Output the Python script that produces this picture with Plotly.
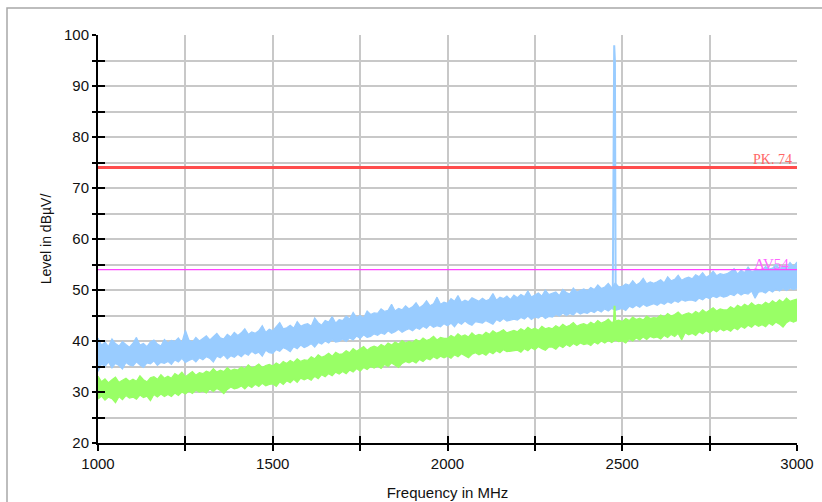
import plotly.graph_objects as go

# ---------------- data ----------------
freq_start = 1000
freq_step = 10
n_points = 201
freq = [freq_start + i * freq_step for i in range(n_points)]

# Peak trace (blue): upper / lower envelope of the noisy band, dBuV
peak_upper = [
    40.6, 39.2, 39.8, 38.9, 40.4, 39.5, 39.0, 39.9, 39.3, 38.8,
    39.6, 40.7, 39.2, 39.5, 38.9, 39.8, 40.2, 39.4, 39.0, 40.3,
    39.6, 40.1, 39.9, 40.6, 39.7, 42.1, 40.2, 39.8, 40.7, 40.0,
    40.5, 41.0, 40.2, 40.9, 41.5, 40.6, 40.4, 41.3, 40.8, 41.7,
    41.1, 41.6, 42.4, 41.3, 41.8, 41.5, 42.0, 43.0, 41.7, 42.3,
    42.0, 42.8, 43.6, 42.4, 42.6, 43.1, 42.5, 43.8, 42.9, 43.2,
    43.4, 42.9, 44.5, 43.6, 43.1, 44.0, 43.7, 44.8, 43.5, 44.2,
    44.0, 44.9, 44.3, 45.6, 44.6, 45.0, 44.5, 45.9, 45.2, 45.5,
    45.4, 46.3, 45.8, 46.0, 47.2, 45.9, 46.4, 46.1, 46.9, 46.3,
    46.7, 47.5, 46.5, 47.0, 47.9, 46.9, 47.3, 48.6, 47.2, 47.6,
    47.4, 48.3, 47.8, 48.9, 47.6, 48.0, 47.7, 48.5, 48.1, 47.8,
    48.4, 47.9, 48.2, 49.3, 48.0, 48.6, 48.3, 48.8, 48.1, 49.0,
    48.5, 49.1, 48.7, 49.8, 48.6, 49.0, 49.4, 48.8, 50.0, 49.1,
    49.3, 49.6, 48.9, 50.1, 49.5, 49.2, 50.4, 49.6, 49.9, 50.2,
    49.8, 50.5, 50.1, 51.0, 50.3, 50.6, 51.3, 50.4, 51.4, 50.6,
    50.7, 51.2, 50.9, 51.8, 51.0, 51.4, 52.3, 51.2, 51.6, 51.3,
    51.6, 52.0, 51.4, 52.6, 51.8, 52.1, 52.9, 51.9, 52.3, 52.5,
    52.2, 53.0, 52.6, 53.4, 52.5, 52.9, 53.7, 52.8, 53.2, 53.0,
    53.2, 53.6, 54.2, 53.1, 53.9, 53.4, 54.5, 53.6, 53.8, 54.0,
    53.9, 54.6, 54.1, 54.3, 55.0, 54.2, 54.7, 54.4, 55.4, 54.6,
    55.5,
]
peak_lower = [
    34.0, 35.5, 35.0, 35.9, 34.7, 35.6, 35.2, 34.5, 35.8, 35.3,
    35.1, 35.9, 35.3, 34.8, 35.7, 35.5, 36.1, 35.2, 35.8, 35.6,
    36.0, 35.4, 36.3, 35.9, 36.6, 35.8, 36.2, 36.5, 35.9, 36.7,
    36.3, 36.9, 36.6, 35.9, 37.0, 36.7, 37.3, 36.5, 37.1, 36.8,
    37.4, 36.9, 37.6, 37.2, 38.0, 37.5, 37.8, 37.0, 38.2, 37.7,
    37.6, 38.3, 38.0, 38.7, 38.4, 37.9, 38.9, 38.5, 39.2, 38.7,
    39.0, 39.5, 38.8, 39.7, 39.4, 40.0, 39.6, 40.3, 39.8, 39.9,
    40.4, 39.9, 40.6, 40.2, 41.0, 40.5, 41.2, 40.7, 40.9, 41.4,
    41.1, 41.6, 41.3, 42.0, 41.5, 41.8, 42.3, 41.7, 42.1, 42.4,
    42.0, 42.6, 42.3, 42.9, 42.5, 43.2, 42.7, 43.0, 42.8, 43.4,
    43.0, 43.5, 42.8, 43.7, 43.3, 43.9, 43.4, 43.1, 43.8, 43.6,
    43.5, 44.0, 43.6, 43.3, 44.2, 43.8, 44.4, 43.9, 44.1, 44.3,
    44.1, 44.6, 44.3, 44.9, 44.2, 44.7, 44.5, 45.0, 44.4, 44.8,
    44.7, 45.2, 44.9, 45.5, 45.0, 45.4, 45.1, 45.8, 45.3, 45.6,
    45.4, 45.9, 45.6, 46.1, 45.7, 46.3, 45.9, 46.4, 46.0, 46.2,
    46.4, 46.0, 46.8, 46.5, 47.0, 46.6, 47.2, 46.8, 47.1, 47.3,
    47.0, 47.5, 47.2, 47.7, 47.4, 47.9, 47.6, 48.1, 47.8, 48.0,
    48.0, 47.8, 48.4, 48.1, 48.6, 48.3, 48.8, 48.5, 48.9, 48.6,
    48.8, 49.2, 48.9, 49.5, 49.0, 49.4, 49.2, 49.8, 48.4, 49.6,
    49.7, 49.4, 50.0, 49.6, 50.2, 49.8, 50.3, 49.9, 50.4, 50.1,
    50.3,
]

# Average trace (green): upper / lower envelope, dBuV
avg_upper = [
    33.1, 32.0, 32.6, 31.8, 32.4, 32.9, 31.9, 32.3, 32.7, 32.1,
    32.5, 32.1, 33.2, 32.4, 32.0, 32.8, 33.0, 32.5, 33.4, 32.7,
    33.1, 32.7, 33.6, 33.2, 33.9, 33.0, 33.5, 34.0, 33.3, 33.8,
    33.6, 34.1, 33.8, 34.6, 33.9, 34.3, 34.0, 34.8, 34.2, 34.5,
    34.3, 34.9, 34.5, 35.3, 34.7, 35.0, 35.5, 34.8, 35.2, 35.4,
    35.1, 35.7, 35.3, 36.0, 35.6, 36.2, 35.8, 36.5, 36.0, 36.3,
    36.2, 36.9, 36.5, 37.3, 36.8, 37.1, 37.6, 37.0, 37.8, 37.4,
    37.5, 38.1, 37.7, 38.5, 38.0, 38.4, 38.9, 38.2, 38.7, 39.0,
    38.7, 39.3, 38.9, 39.6, 39.2, 39.8, 39.4, 40.1, 39.6, 39.9,
    39.7, 40.3, 39.9, 40.6, 40.1, 40.4, 40.9, 40.2, 40.7, 40.5,
    40.5, 41.1, 40.7, 41.4, 40.9, 41.2, 40.8, 41.6, 41.0, 41.3,
    41.1, 41.7, 41.3, 42.0, 41.5, 41.8, 42.2, 41.6, 41.9, 42.1,
    41.8, 42.4, 42.0, 42.7, 42.2, 42.5, 42.1, 42.9, 42.4, 42.6,
    42.4, 43.0, 42.6, 43.3, 42.8, 43.1, 43.6, 42.9, 43.2, 43.4,
    43.1, 43.7, 43.3, 44.0, 43.5, 43.8, 44.3, 43.6, 43.9, 44.1,
    43.8, 44.4, 44.0, 44.7, 44.2, 44.5, 44.1, 44.9, 44.4, 44.6,
    44.5, 45.1, 44.7, 45.4, 44.9, 45.2, 45.7, 45.0, 45.3, 45.5,
    45.2, 45.8, 45.4, 46.1, 45.6, 46.0, 46.5, 45.9, 46.3, 46.1,
    46.1, 46.7, 46.3, 47.0, 46.6, 47.2, 46.8, 47.5, 46.9, 47.2,
    47.0, 47.6, 47.2, 47.9, 47.4, 48.1, 47.6, 48.4, 47.8, 48.0,
    48.2,
]
avg_lower = [
    28.6, 29.2, 28.4, 29.0, 28.7, 27.9, 29.1, 28.5, 29.3, 28.8,
    29.0, 28.6, 29.4, 28.9, 29.2, 28.3, 29.5, 29.0, 29.6, 29.1,
    29.5, 29.1, 29.8, 29.3, 30.0, 29.6, 30.2, 29.7, 30.4, 30.0,
    30.2, 29.8, 30.6, 30.1, 30.7, 30.3, 29.7, 30.5, 31.0, 30.6,
    30.8, 31.2, 30.6, 31.3, 30.9, 31.5, 31.1, 31.7, 31.2, 31.5,
    31.6, 31.1, 32.0, 31.5, 32.2, 31.8, 32.5, 31.9, 32.7, 32.4,
    32.7, 32.3, 33.1, 32.6, 33.4, 33.0, 33.6, 33.2, 33.9, 33.5,
    34.0, 33.6, 34.3, 33.9, 34.6, 34.1, 34.8, 34.4, 35.0, 34.7,
    35.1, 34.6, 35.4, 35.0, 35.7, 35.3, 34.8, 35.6, 36.0, 35.7,
    36.1, 35.7, 36.4, 36.0, 36.6, 36.3, 36.9, 36.5, 37.0, 36.7,
    37.0, 36.6, 37.3, 36.9, 37.5, 37.1, 36.7, 37.4, 37.7, 37.3,
    37.6, 37.2, 37.9, 37.5, 38.1, 37.7, 38.3, 37.9, 38.0, 38.2,
    38.2, 37.8, 38.5, 38.1, 38.7, 38.3, 38.9, 38.5, 38.2, 38.8,
    38.8, 38.4, 39.1, 38.7, 39.3, 38.9, 39.5, 39.1, 39.6, 39.3,
    39.5, 39.1, 39.8, 39.4, 40.0, 39.6, 40.1, 39.7, 40.2, 39.9,
    40.0, 39.6, 40.4, 40.0, 40.6, 40.2, 40.8, 40.3, 40.9, 40.6,
    40.8, 40.4, 41.1, 40.7, 41.3, 40.9, 41.5, 40.2, 41.6, 41.2,
    41.5, 41.1, 41.8, 41.4, 42.0, 41.6, 42.2, 41.8, 42.4, 42.0,
    42.3, 41.9, 42.6, 42.2, 42.9, 42.5, 43.1, 42.7, 43.3, 42.9,
    43.2, 42.8, 43.5, 43.1, 43.7, 43.3, 42.7, 43.6, 44.0, 43.7,
    44.0,
]

# Carrier spike near 2477 MHz
spike_freq = [2473, 2475, 2477, 2479, 2481]
spike_peak = [50.0, 96.0, 98.0, 95.0, 51.0]
spike_avg_freq = [2476, 2478, 2480]
spike_avg = [43.5, 46.9, 44.0]

# Limit lines
limit_freq = [1000, 3000]
limit_pk = 74
limit_av = 54
limit_pk_label = "PK. 74"
limit_av_label = "AV54"

x_major_ticks = [1000, 1500, 2000, 2500, 3000]
y_major_ticks = [20, 30, 40, 50, 60, 70, 80, 90, 100]

BLUE = "#99ccff"
GREEN = "#99ff66"
RED = "#ff4d4d"
MAGENTA = "#ff44ff"

fig = go.Figure()

# Blue band
fig.add_trace(go.Scatter(x=freq, y=peak_lower, mode="lines",
                         line=dict(color=BLUE, width=1.2), hoverinfo="skip"))
fig.add_trace(go.Scatter(x=freq, y=peak_upper, mode="lines",
                         line=dict(color=BLUE, width=1.2), fill="tonexty",
                         fillcolor=BLUE, hoverinfo="skip"))
# Green band
fig.add_trace(go.Scatter(x=freq, y=avg_lower, mode="lines",
                         line=dict(color=GREEN, width=1.2), hoverinfo="skip"))
fig.add_trace(go.Scatter(x=freq, y=avg_upper, mode="lines",
                         line=dict(color=GREEN, width=1.2), fill="tonexty",
                         fillcolor=GREEN, hoverinfo="skip"))
# Spikes
fig.add_trace(go.Scatter(x=spike_freq, y=spike_peak, mode="lines",
                         line=dict(color=BLUE, width=2)))
fig.add_trace(go.Scatter(x=spike_avg_freq, y=spike_avg, mode="lines",
                         line=dict(color=GREEN, width=2)))

# Limits
fig.add_trace(go.Scatter(x=limit_freq, y=[limit_pk] * len(limit_freq), mode="lines",
                         line=dict(color=RED, width=3)))
fig.add_trace(go.Scatter(x=limit_freq, y=[limit_av] * len(limit_freq), mode="lines",
                         line=dict(color=MAGENTA, width=1.3)))

fig.add_annotation(x=limit_freq[-1], y=limit_pk, text=limit_pk_label, showarrow=False,
                   xanchor="right", yanchor="bottom", xshift=-3, yshift=-1,
                   font=dict(family="Liberation Serif, DejaVu Serif, serif", size=14,
                             color="#ff6666"))
fig.add_annotation(x=limit_freq[-1], y=limit_av, text=limit_av_label, showarrow=False,
                   xanchor="right", yanchor="bottom", xshift=-6, yshift=-4,
                   font=dict(family="Liberation Serif, DejaVu Serif, serif", size=15,
                             color="#ff66ff"))

GRID = "#c8c8c8"
FONT = "Liberation Sans, Arial, sans-serif"

fig.update_layout(
    width=822, height=502,
    margin=dict(l=98, r=25, t=35, b=59),
    paper_bgcolor="white", plot_bgcolor="white",
    showlegend=False,
    font=dict(family=FONT, size=15, color="#111111"),
    xaxis=dict(range=[1000, 3000], tickvals=x_major_ticks, automargin=False,
               showgrid=True, gridcolor=GRID, gridwidth=1.5,
               showline=True, linecolor="black", linewidth=2,
               ticks="outside", ticklen=6, tickwidth=1.5, tickcolor="black",
               minor=dict(dtick=250, tick0=1000, ticks="outside", ticklen=6,
                          tickwidth=1.5, tickcolor="black",
                          showgrid=True, gridcolor=GRID, gridwidth=1.5),
               tickfont=dict(size=15), zeroline=False,
               title=dict(text="Frequency in MHz", font=dict(size=15), standoff=16)),
    yaxis=dict(range=[20, 100], tickvals=y_major_ticks, automargin=False,
               showgrid=True, gridcolor=GRID, gridwidth=1.5,
               showline=True, linecolor="black", linewidth=2,
               ticks="outside", ticklen=4, tickwidth=1.5, tickcolor="black",
               minor=dict(dtick=5, tick0=20, ticks="outside", ticklen=4,
                          tickwidth=1.5, tickcolor="black",
                          showgrid=True, gridcolor=GRID, gridwidth=1.5),
               tickfont=dict(size=15), zeroline=False,
               title=dict(text="Level in dBµV/", font=dict(size=14), standoff=9)),
    xaxis2=dict(range=[1000, 3000], overlaying="x", anchor="y", side="bottom",
                tickvals=x_major_ticks, showticklabels=False, showgrid=False,
                ticks="inside", ticklen=7, tickwidth=1.5, tickcolor="black",
                minor=dict(dtick=250, tick0=1000, ticks="inside", ticklen=7,
                           tickwidth=1.5, tickcolor="black"),
                zeroline=False, showline=False, automargin=False),
    yaxis2=dict(range=[20, 100], overlaying="y", anchor="x", side="left",
                tickvals=y_major_ticks, showticklabels=False, showgrid=False,
                ticks="inside", ticklen=7, tickwidth=1.5, tickcolor="black",
                minor=dict(dtick=5, tick0=20, ticks="inside", ticklen=7,
                           tickwidth=1.5, tickcolor="black"),
                zeroline=False, showline=False, automargin=False),
)

# invisible trace so the overlay axes are rendered
fig.add_trace(go.Scatter(x=[], y=[], xaxis="x2", yaxis="y2", mode="lines"))

# outer frame of the report
fig.add_shape(type="rect", xref="paper", yref="paper",
              x0=(7 - 98) / 699, x1=(840 - 98) / 699,
              y0=(443 - 520) / 408, y1=(443 - 8) / 408,
              line=dict(color="#a8a8a8", width=1.5), fillcolor="rgba(0,0,0,0)",
              layer="below")

fig.write_html("out.html",
               config={"displayModeBar": False},
               post_script="document.body.style.margin='0';document.body.style.overflow='hidden';")
